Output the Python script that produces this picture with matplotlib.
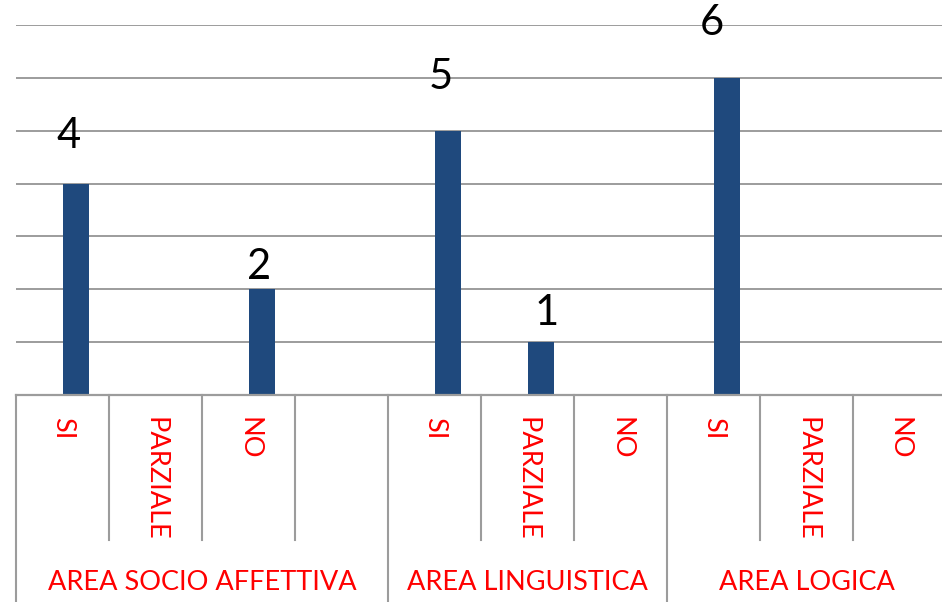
import matplotlib.pyplot as plt
import matplotlib.transforms as mtransforms

# data
categories = ['SI', 'PARZIALE', 'NO', '', 'SI', 'PARZIALE', 'NO', 'SI', 'PARZIALE', 'NO']
values = [4, 0, 2, 0, 5, 1, 0, 6, 0, 0]
groups = ['AREA SOCIO AFFETTIVA', 'AREA LINGUISTICA', 'AREA LOGICA']
group_sizes = [4, 3, 3]

bar_color = '#1F497D'
grid_color = '#9C9C9C'
red = '#FF0000'
plt.rcParams['font.family'] = ['Lato', 'DejaVu Sans']

W, H = 942, 602
fig = plt.figure(figsize=(W / 100, H / 100), dpi=100)
# plot area: x 16..946 px, y 25..395 px (from top)
ax = fig.add_axes([16 / W, (H - 395) / H, 930 / W, 370 / H])
ax.set_xlim(0, len(categories))
ax.set_ylim(0, 7)

for y in range(1, 8):
    ax.axhline(y, color=grid_color, lw=1.4, zorder=1)
ax.axhline(0, color=grid_color, lw=1.6, zorder=3, clip_on=False)

x = [i + 0.5 for i in range(len(categories))]
ax.bar(x, values, width=0.28, align='edge', color=bar_color, zorder=2)

# value labels (Excel placed them a bit irregularly) - offsets in px
label_off = {0: (-6.5, 48), 2: (-2.5, 22), 4: (-6.5, 54), 5: (6.5, 29), 7: (-15, 55)}
for i, v in enumerate(values):
    if v == 0:
        continue
    dx, dy = label_off.get(i, (0, 45))
    ax.annotate(str(v), (x[i] + 0.14, v), xytext=(dx * 0.72, dy * 0.72),
                textcoords='offset points', ha='center', va='center',
                fontsize=30, color='black')

ax.set_xticks([])
ax.set_yticks([])
for s in ax.spines.values():
    s.set_visible(False)

trans = mtransforms.blended_transform_factory(ax.transData, ax.transAxes)
px = 1 / 370  # one pixel in axes fraction (vertical)

# category labels and separators
for i, c in enumerate(categories):
    ax.text(i + 0.5, -22 * px, c, rotation=-90, ha='center', va='top',
            color=red, fontsize=19.5, transform=trans, clip_on=False)

bounds = [0]
for g in group_sizes:
    bounds.append(bounds[-1] + g)
for b in range(1, len(categories)):
    if b in bounds:
        continue
    ax.plot([b, b], [0, -145 * px], color=grid_color, lw=1.5,
            transform=trans, clip_on=False)
for b in bounds:
    ax.plot([b, b], [0, -215 * px], color=grid_color, lw=1.5,
            transform=trans, clip_on=False)

for gi, g in enumerate(groups):
    mid = (bounds[gi] + bounds[gi + 1]) / 2
    ax.text(mid, -187 * px, g, ha='center', va='center', color=red,
            fontsize=19.5, transform=trans, clip_on=False)

fig.savefig('out.png', dpi=100)
